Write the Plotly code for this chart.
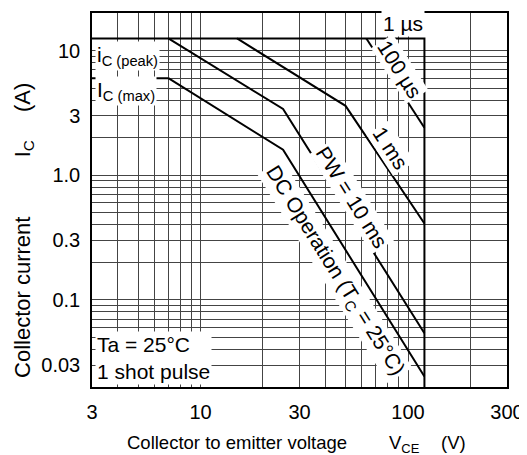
import math
import plotly.graph_objects as go

# ---- data ----
x_tickvals = [3, 10, 30, 100, 300]
x_ticktext = ["3", "10", "30", "100", "300"]
y_tickvals = [0.03, 0.1, 0.3, 1, 3, 10]
y_ticktext = ["0.03", "0.1", "0.3", "1.0", "3", "10"]

# 1 us boundary: i_C(peak) level then V_CEO limit
us1_v = [3, 120, 120]
us1_i = [12.5, 12.5, 0.02]
# i_C(max) level
icmax_v = [3, 7]
icmax_i = [6, 6]
us100_v = [63, 120]
us100_i = [12.5, 2.4]
ms1_v = [15, 50, 120]
ms1_i = [12.5, 3.6, 0.41]
ms10_v = [7, 25, 120]
ms10_i = [12.5, 3.4, 0.054]
dc_v = [7, 25, 120]
dc_i = [6, 1.6, 0.0243]

FONT = "Liberation Sans, Arial, Helvetica, sans-serif"
FS_TICK = 20
FS_LBL = 21
GRID = "#444444"
SP = "\u00a0"

fig = go.Figure()
line = dict(color="black", width=2)
for v, i in [(us1_v, us1_i), (icmax_v, icmax_i), (us100_v, us100_i),
             (ms1_v, ms1_i), (ms10_v, ms10_i), (dc_v, dc_i)]:
    fig.add_trace(go.Scatter(x=v, y=i, mode="lines", line=line,
                             hoverinfo="skip", showlegend=False))

def ann(x, y, text, angle=0, xanchor="center", align="center", size=FS_LBL):
    fig.add_annotation(x=math.log10(x), y=math.log10(y), xref="x", yref="y",
                       text=text, showarrow=False,
                       textangle=angle, xanchor=xanchor, align=align,
                       bgcolor="white", borderpad=1,
                       font=dict(family=FONT, size=size, color="black"))

ann(94.6, 16.4, "1 µs")
ann(91.5, 7.06, "100 µs", angle=57.5)
ann(82.8, 1.65, "1 ms", angle=57)
ann(53.7, 0.66, "PW = 10 ms", angle=58)
ann(44.5, 0.172, "DC Operation (T<sub>C</sub> = 25°C)", angle=58)
ann(3.1, 9.1, "i<sub>C" + SP + "(peak)</sub>", xanchor="left")
ann(3.1, 4.7, "I<sub>C" + SP + "(max)</sub>", xanchor="left")
ann(3.1, 0.034, "Ta = 25°C<br>1 shot pulse", xanchor="left", align="left")

# axis titles (pieces placed as in the reference, with wide gaps)
def paper_x(px):
    return (px - 92) / 415.0

def paper_y(py):
    return (387 - py) / 376.0

XT_TOP = paper_y(430)
for cx, txt in [(237, "Collector to emitter voltage"),
                (404, "V<sub>CE</sub>"),
                (453, "(V)")]:
    fig.add_annotation(x=paper_x(cx), y=XT_TOP, xref="paper", yref="paper",
                       showarrow=False, text=txt, xanchor="center", yanchor="top",
                       font=dict(family=FONT, size=18.5, color="black"))

YT_LEFT = paper_x(8)
for cy, txt in [(297, "Collector current"),
                (148, "I<sub>C</sub>"),
                (96, "(A)")]:
    fig.add_annotation(x=YT_LEFT, y=paper_y(cy), xref="paper", yref="paper",
                       showarrow=False, text=txt, textangle=-90,
                       xanchor="left", yanchor="middle",
                       font=dict(family=FONT, size=22, color="black"))

axis_common = dict(type="log", showline=True, linecolor="black", linewidth=1.5,
                   mirror=True, ticks="", showgrid=True, gridcolor=GRID, gridwidth=1,
                   zeroline=False, tickfont=dict(family=FONT, size=FS_TICK, color="black"),
                   minor=dict(dtick="D1", showgrid=True, gridcolor=GRID, gridwidth=1, ticks=""))

fig.update_xaxes(range=[math.log10(3), math.log10(300)], tickvals=x_tickvals,
                 ticktext=x_ticktext, ticklabelstandoff=6, **axis_common)
fig.update_yaxes(range=[math.log10(0.02), math.log10(20)], tickvals=y_tickvals,
                 ticktext=y_ticktext, ticklabelstandoff=6, **axis_common)

# page body has an 8px margin, so the figure is 8px smaller than the window
fig.update_layout(width=519, height=447, margin=dict(l=84, r=20, t=3, b=68),
                  plot_bgcolor="white", paper_bgcolor="white",
                  font=dict(family=FONT, size=FS_TICK, color="black"))

fig.write_html("out.html")
